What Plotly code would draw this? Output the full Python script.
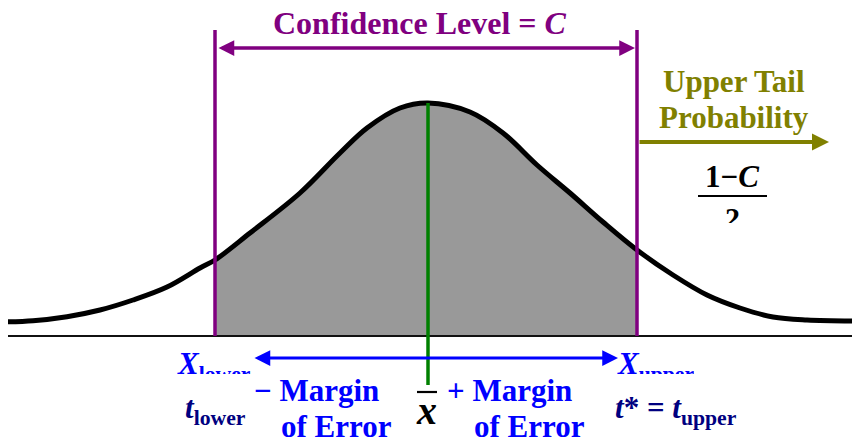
import plotly.graph_objects as go

# ---- data (pixel-like units, y grows downward) ----
CURVE_X = [3, 33, 67, 100, 133, 167, 200, 215, 250, 300, 340, 367, 400, 428,
           470, 503, 537, 570, 603, 637, 673, 707, 740, 773, 807, 857]
CURVE_Y = [322, 320.7, 316.7, 310, 300, 287, 268, 260, 233, 193, 153, 128, 108, 103,
           112, 133, 165, 193, 222, 250, 275, 295, 308, 317, 320, 321]
LOWER_X = 215
UPPER_X = 637
MEAN_X = 428
BASE_Y = 336
PAGE_OFFSET = 8  # default body margin of the html page
X_RANGE = [PAGE_OFFSET, 860]
Y_RANGE = [440, PAGE_OFFSET]

PURPLE = "#800080"
OLIVE = "#808000"
BLUE = "#0000FF"
NAVY = "#000080"
GREEN = "#008000"
FONT = "Liberation Serif, Times New Roman, serif"

fig = go.Figure()

# shaded region between the bounds
fx = [x for x in CURVE_X if LOWER_X <= x <= UPPER_X]
fy = [y for x, y in zip(CURVE_X, CURVE_Y) if LOWER_X <= x <= UPPER_X]
fig.add_trace(go.Scatter(x=[fx[0], fx[-1]], y=[BASE_Y, BASE_Y], mode="lines",
                         line=dict(width=0, color="rgba(0,0,0,0)"), hoverinfo="skip"))
fig.add_trace(go.Scatter(x=fx, y=fy, mode="lines", fill="tonexty",
                         fillcolor="#999999", line=dict(width=0, shape="spline"),
                         hoverinfo="skip"))
# baseline
fig.add_trace(go.Scatter(x=[0, 860], y=[BASE_Y, BASE_Y], mode="lines",
                         line=dict(color="#111111", width=2), hoverinfo="skip"))
# curve
fig.add_trace(go.Scatter(x=CURVE_X, y=CURVE_Y, mode="lines",
                         line=dict(color="black", width=5, shape="spline"), hoverinfo="skip"))
# bound lines
for bx in (LOWER_X, UPPER_X):
    fig.add_trace(go.Scatter(x=[bx, bx], y=[30, BASE_Y], mode="lines",
                             line=dict(color=PURPLE, width=3.5), hoverinfo="skip"))
# mean line
peak_y = min(CURVE_Y)
fig.add_trace(go.Scatter(x=[MEAN_X, MEAN_X], y=[peak_y, 385], mode="lines",
                         line=dict(color=GREEN, width=3.5), hoverinfo="skip"))
# fraction bar
fig.add_trace(go.Scatter(x=[698, 767], y=[196, 196], mode="lines",
                         line=dict(color="black", width=1.8), hoverinfo="skip"))
# bar over the sample mean symbol
fig.add_trace(go.Scatter(x=[MEAN_X - 11, MEAN_X + 9], y=[392, 392], mode="lines",
                         line=dict(color="black", width=2.2), hoverinfo="skip"))

anns = []
def arrow(x, y, ax, ay, color, width, size, both=False):
    anns.append(dict(x=x, y=y, ax=ax, ay=ay, xref="x", yref="y", axref="x", ayref="y",
                     text="", showarrow=True, arrowhead=2, arrowsize=size,
                     arrowwidth=width, arrowcolor=color, standoff=0, startstandoff=0,
                     arrowside="end+start" if both else "end", startarrowhead=2,
                     startarrowsize=size))

arrow(UPPER_X - 2, 48, LOWER_X + 2, 48, PURPLE, 3.5, 0.9, both=True)
arrow(829, 142, UPPER_X + 1, 142, OLIVE, 4, 0.85)
arrow(618, 358, 253, 358, BLUE, 3, 1.05, both=True)

def text(t, x, y, color, size=31, xanchor="center", **kw):
    d = dict(x=x, y=y, xref="x", yref="y", text=t, showarrow=False,
             font=dict(family=FONT, size=size, color=color), xanchor=xanchor,
             yanchor="middle")
    d.update(kw)
    anns.append(d)

text("<b>Confidence Level = <i>C</i></b>", 420, 23, PURPLE, size=32)
text("<b>Upper Tail</b>", 734, 81, OLIVE)
text("<b>Probability</b>", 734, 117, OLIVE)
text("<b>1</b><b>−</b><b><i>C</i></b>", 732, 176, "black", size=31)
text("<b>2</b>", 732, 212, "black", size=30, height=22, valign="top")

text("<b><i>X</i><sub>lower</sub></b>", 175, 360, BLUE, xanchor="left", height=28, valign="top")
text("<b><i>X</i><sub>upper</sub></b>", 615, 360, BLUE, xanchor="left", height=28, valign="top")
text("<b><i>t</i><sub>lower</sub></b>", 183, 410, NAVY, xanchor="left")
text("<b><i>t</i>* = <i>t</i><sub>upper</sub></b>", 613, 410, NAVY, xanchor="left")
text("<b>− Margin</b>", 252, 390, BLUE, xanchor="left")
text("<b>of Error</b>", 279, 426, BLUE, xanchor="left")
text("<b>+ Margin</b>", 445, 390, BLUE, xanchor="left")
text("<b>of Error</b>", 472, 426, BLUE, xanchor="left")
text("<b><i>x</i></b>", MEAN_X - 2, 410, "black", size=40)

fig.update_layout(
    width=860 - PAGE_OFFSET, height=440 - PAGE_OFFSET,
    margin=dict(l=0, r=0, t=0, b=0),
    paper_bgcolor="white", plot_bgcolor="white", showlegend=False,
    xaxis=dict(range=X_RANGE, visible=False, fixedrange=True),
    yaxis=dict(range=Y_RANGE, visible=False, fixedrange=True),
    annotations=anns,
)
fig.write_html("out.html")
